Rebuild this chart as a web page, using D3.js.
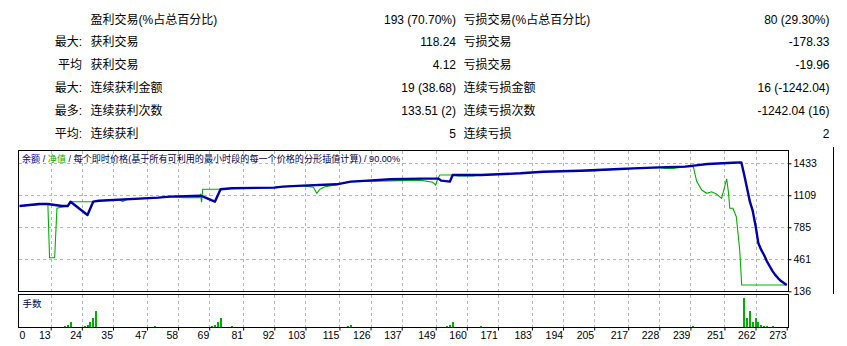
<!DOCTYPE html>
<html>
<head>
<meta charset="utf-8">
<script src="https://cdn.jsdelivr.net/npm/d3@7/dist/d3.min.js"></script>
<style>
    body {margin: 0; background: #fff;}
    svg {display: block; font-family: Tahoma, "Liberation Sans", "Noto Sans CJK SC", sans-serif;}
</style>
</head>
<body>
<svg id="chart" width="847" height="346"></svg>
<script>
// 统计表
const statPrefixes = ["", "最大:", "平均", "最大:", "最多:", "平均:"];
const profitLabels = ["盈利交易(%占总百分比)", "获利交易", "获利交易", "连续获利金额", "连续获利次数", "连续获利"];
const profitValues = ["193 (70.70%)", "118.24", "4.12", "19 (38.68)", "133.51 (2)", "5"];
const lossLabels = ["亏损交易(%占总百分比)", "亏损交易", "亏损交易", "连续亏损金额", "连续亏损次数", "连续亏损"];
const lossValues = ["80 (29.30%)", "-178.33", "-19.96", "16 (-1242.04)", "-1242.04 (16)", "2"];

// 余额 (交易序号 / 金额)
const balanceTrades = [2, 9, 12, 17, 19, 20, 26, 28, 30, 46, 51, 55, 66, 71, 73, 77, 92, 95, 102, 114, 119, 125, 133, 144,
    150, 151, 154, 155, 165, 179, 187, 200, 214, 219, 228, 237, 241, 245, 254, 257,
    258, 259, 260, 261, 262, 263, 264, 265, 266, 267, 268, 269, 270, 271, 272, 273];
const balanceValues = [1000, 1020, 1020, 1000, 1000, 1044, 909, 1044, 1054, 1078, 1085, 1095, 1105, 1044, 1170, 1180, 1187, 1197, 1207, 1220, 1247, 1257, 1271, 1278,
    1278, 1257, 1247, 1314, 1314, 1332, 1348, 1358, 1375, 1382, 1392, 1399, 1412, 1426, 1439, 1442,
    1314, 1180, 1044, 950, 800, 622, 555, 504, 440, 390, 340, 300, 268, 240, 220, 200];

// 净值
const equityTrades = [2, 12, 12.6, 14.4, 15.2, 17, 19.2, 20.4, 28, 30.4, 37, 38.5, 40, 45.6, 50.6, 55.1, 60, 65.5, 65.9, 66.3, 66.7,
    73.4, 77.4, 91.5, 95.1, 101.7, 105.8, 107, 108.1, 110, 114.1, 118.7, 124.7, 132.8, 143.5, 148, 149, 149.8, 150.5,
    154.7, 157, 162, 164.7, 178.8, 186.9, 200, 205, 214.1, 218.7, 228, 230, 233, 237.1, 240,
    241.2, 243, 244.7, 246.5, 248.3, 250, 251.8, 252.4, 252.9, 254, 255.2, 255.8, 256.4, 257.1, 273];
const equityValues = [1000, 1020, 476, 476, 977, 990, 1000, 1044, 1044, 1054, 1066, 1045, 1070, 1078, 1085, 1095, 1085, 1085, 1112, 1040, 1170,
    1170, 1180, 1187, 1197, 1207, 1190, 1129, 1170, 1197, 1215, 1247, 1250, 1255, 1262, 1241, 1213, 1281, 1314,
    1314, 1304, 1304, 1314, 1332, 1348, 1358, 1355, 1375, 1382, 1392, 1382, 1382, 1399, 1400,
    1250, 1162, 1129, 1145, 1119, 1078, 1275, 1145, 977, 977, 892, 724, 554, 200, 200];

// 手数
const lotTrades = [18, 19, 20, 25, 26, 27, 28, 29, 50, 70, 71, 72, 73, 77, 118, 119, 153, 154, 155, 165, 240,
    258, 259, 260, 261, 262, 263, 264, 265, 266, 268];
const lotValues = [0.01, 0.02, 0.05, 0.01, 0.02, 0.05, 0.09, 0.16, 0.01, 0.01, 0.02, 0.05, 0.09, 0.01, 0.01, 0.02, 0.01, 0.02, 0.05, 0.01, 0.01,
    0.29, 0.09, 0.16, 0.05, 0.09, 0.05, 0.02, 0.01, 0.01, 0.01];

// 坐标轴刻度
const xTickLabels = [0, 13, 24, 35, 47, 58, 69, 81, 92, 103, 115, 126, 137, 149, 160, 171, 183, 194, 205, 217, 228, 239, 251, 262, 273];
const yTickLabels = [1433, 1109, 785, 461, 136];

// 图例
const legendParts = ["余额", " / ", "净值", " / 每个即时价格(基于所有可利用的最小时段的每一个价格的分形插值计算) / 90.00%"];
const lotTitle = "手数";

class TesterReport {

    constructor({svg}) {
        this.svg = d3.select(svg);

        // 主图与手数图的边框
        this.main = {left: 18.5, right: 788.5, top: 150.5, bottom: 291.5};
        this.lots = {left: 18.5, right: 788.5, top: 294.5, bottom: 327.5};

        this.balanceColor = "#0000a8";
        this.equityColor = "#00b000";
        this.gridColor = "#b4b4b4";
    }

    create() {
        this._drawStats();

        this.scaleX = d3.scaleLinear().domain([13, 273]).range([50.7, 786.7]);
        this.scaleY = d3.scaleLinear().domain([136, 1433]).range([291.3, 163.3]);
        this.scaleLot = d3.scaleLinear().domain([0, 0.33]).range([327, 294]);

        this._drawGrid();
        this._drawLines();
        this._drawLots();
        this._drawAxes();
        this._drawFrames();
        this._drawLegend();
    }

    // 顶部统计表
    _drawStats() {
        const g = this.svg.append("g").attr("font-size", 12).attr("fill", "#000");
        const rowY = i => 23.5 + i * 22.8;

        g.selectAll(".prefix").data(statPrefixes).enter().append("text")
            .attr("x", 82).attr("y", (d, i) => rowY(i)).attr("text-anchor", "end").text(d => d);
        g.selectAll(".plabel").data(profitLabels).enter().append("text")
            .attr("x", 90.5).attr("y", (d, i) => rowY(i)).text(d => d);
        g.selectAll(".pvalue").data(profitValues).enter().append("text")
            .attr("x", 456).attr("y", (d, i) => rowY(i)).attr("text-anchor", "end").text(d => d);
        g.selectAll(".llabel").data(lossLabels).enter().append("text")
            .attr("x", 463.5).attr("y", (d, i) => rowY(i)).text(d => d);
        g.selectAll(".lvalue").data(lossValues).enter().append("text")
            .attr("x", 829.5).attr("y", (d, i) => rowY(i)).attr("text-anchor", "end").text(d => d);
    }

    _drawGrid() {
        const g = this.svg.append("g")
            .attr("stroke", this.gridColor).attr("stroke-dasharray", "3,3").attr("shape-rendering", "crispEdges");
        const gx = xTickLabels.slice(1, -1);

        g.selectAll(".vmain").data(gx).enter().append("line")
            .attr("x1", d => Math.round(this.scaleX(d)) + 0.5).attr("x2", d => Math.round(this.scaleX(d)) + 0.5)
            .attr("y1", this.main.top).attr("y2", this.main.bottom);
        g.selectAll(".vlot").data(gx).enter().append("line")
            .attr("x1", d => Math.round(this.scaleX(d)) + 0.5).attr("x2", d => Math.round(this.scaleX(d)) + 0.5)
            .attr("y1", this.lots.top).attr("y2", this.lots.bottom);
        g.selectAll(".hmain").data(yTickLabels.slice(0, -1)).enter().append("line")
            .attr("x1", this.main.left).attr("x2", this.main.right)
            .attr("y1", d => Math.round(this.scaleY(d)) + 0.5).attr("y2", d => Math.round(this.scaleY(d)) + 0.5);
    }

    _drawLines() {
        this.svg.append("clipPath").attr("id", "mainClip").append("rect")
            .attr("x", this.main.left).attr("y", this.main.top)
            .attr("width", this.main.right - this.main.left).attr("height", this.main.bottom - this.main.top);

        const g = this.svg.append("g").attr("clip-path", "url(#mainClip)");
        const line = d3.line().x(d => this.scaleX(d[0])).y(d => this.scaleY(d[1]));

        g.append("path")
            .datum(d3.zip(equityTrades, equityValues))
            .attr("fill", "none").attr("stroke", this.equityColor).attr("stroke-width", 1.1)
            .attr("d", line);
        g.append("path")
            .datum(d3.zip(balanceTrades, balanceValues))
            .attr("fill", "none").attr("stroke", this.balanceColor).attr("stroke-width", 2.4)
            .attr("stroke-linejoin", "round")
            .attr("d", line);
    }

    _drawLots() {
        this.svg.append("g").selectAll("rect").data(d3.zip(lotTrades, lotValues)).enter().append("rect")
            .attr("fill", this.equityColor)
            .attr("x", d => Math.round(this.scaleX(d[0])) - 1)
            .attr("y", d => this.scaleLot(d[1]))
            .attr("width", 2)
            .attr("height", d => this.scaleLot(0) - this.scaleLot(d[1]));
    }

    _drawAxes() {
        // 右侧 y 轴
        const axisY = d3.axisRight(this.scaleY).tickValues(yTickLabels).tickFormat(d3.format("d"))
            .tickSize(3).tickPadding(2);
        const yG = this.svg.append("g").attr("transform", `translate(${this.main.right},0)`).call(axisY);
        yG.select(".domain").remove();
        yG.selectAll("text").attr("font-size", 10.5).attr("fill", "#000").attr("font-family", null);

        // 底部 x 轴
        const axisX = d3.axisBottom(this.scaleX).tickValues(xTickLabels.slice(1)).tickSize(3).tickPadding(1);
        const xG = this.svg.append("g").attr("transform", `translate(0,${this.lots.bottom})`).call(axisX);
        xG.select(".domain").remove();
        xG.selectAll("text").attr("font-size", 10.5).attr("fill", "#000").attr("font-family", null)
            .attr("text-anchor", "end").attr("x", -0.5);

        this.svg.append("text")
            .attr("x", this.lots.left + 1).attr("y", this.lots.bottom + 11.5)
            .attr("font-size", 10.5).text(xTickLabels[0]);
    }

    _drawFrames() {
        const g = this.svg.append("g").attr("fill", "none").attr("stroke", "#000").attr("shape-rendering", "crispEdges");
        [this.main, this.lots].forEach(b => {
            g.append("rect").attr("x", b.left).attr("y", b.top)
                .attr("width", b.right - b.left).attr("height", b.bottom - b.top);
        });
        g.append("line").attr("x1", 833.5).attr("x2", 833.5).attr("y1", 147).attr("y2", 294);
    }

    _drawLegend() {
        const colors = [this.balanceColor, "#000050", this.equityColor, "#000050"];
        const t = this.svg.append("text").attr("x", 22).attr("y", 161.5).attr("font-size", 9.1);
        t.selectAll("tspan").data(legendParts).enter().append("tspan")
            .attr("fill", (d, i) => colors[i]).text(d => d);

        this.svg.append("text").attr("x", 22.5).attr("y", 306.5).attr("font-size", 9.5)
            .attr("fill", "#000050").text(lotTitle);
    }
}

new TesterReport({svg: document.getElementById("chart")}).create();
</script>
</body>
</html>
